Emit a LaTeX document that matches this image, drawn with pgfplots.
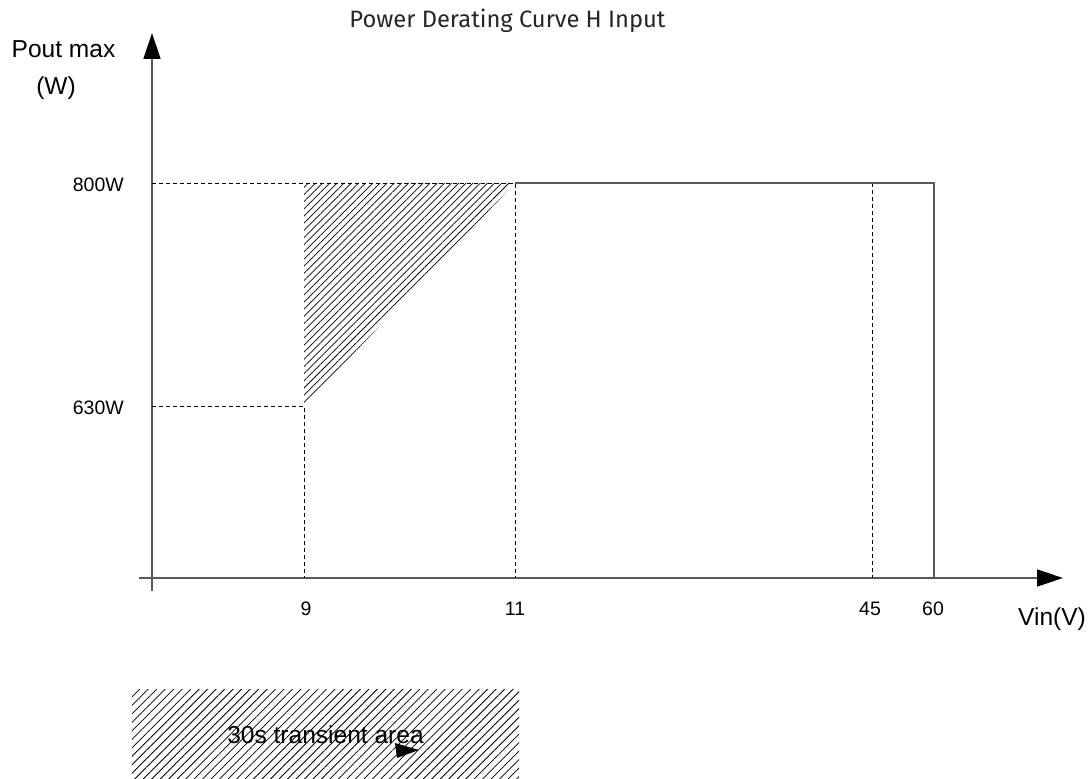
\documentclass[border=0pt]{standalone}
\usepackage{fontspec}
\setmainfont{Liberation Sans}
\newfontfamily\titlefont{Fira Sans}
\usepackage{pgfplots}
\pgfplotsset{compat=1.18}
\usetikzlibrary{arrows.meta,patterns.meta}
\begin{document}
\begin{tikzpicture}
\begin{axis}[
  x=0.75pt, y=0.75pt,
  scale only axis,
  axis lines=middle,
  enlargelimits=false,
  xmin=-13, xmax=911, ymin=-13, ymax=545,
  axis line style={draw=black!65, line width=1pt},
  x axis line style={-{Triangle[length=19.5pt,width=12.75pt,black]}},
  y axis line style={-{Triangle[length=19.5pt,width=12.75pt,black]}},
  xtick=\empty, ytick=\empty,
  clip=false,
]
% invisible frame giving the picture its size
\path (axis cs:-152,-200) rectangle (axis cs:940,578);
% hatched 30 s transient region
\addplot[draw=none, pattern={Lines[angle=45,distance=3.8pt,line width=0.55pt]}]
  coordinates {(152,172) (152,395) (363,395)} -- cycle;
% legend box
\addplot[draw=none, pattern={Lines[angle=45,distance=4.5pt,line width=0.6pt]}]
  coordinates {(-20,-111) (367,-111) (367,-200) (-20,-200)} -- cycle;
% dashed guide lines
\addplot[black, line width=0.6pt, dash pattern=on 3pt off 2.25pt] coordinates {(0,395) (363,395) (363,0)};
\addplot[black, line width=0.6pt, dash pattern=on 3pt off 2.25pt] coordinates {(0,172) (152,172) (152,0)};
\addplot[black, line width=0.6pt, dash pattern=on 3pt off 2.25pt] coordinates {(720,395) (720,0)};
% derating curve (solid)
\addplot[draw=black!65, line width=1pt] coordinates {(363,395) (782,395) (782,0)};
% small arrowhead in legend box
\fill[black] (axis cs:243,-165) -- (axis cs:245,-180) -- (axis cs:267,-172) -- cycle;
% tick labels
\node[anchor=base, font=\fontsize{14.6}{17}\selectfont] at (axis cs:154,-37) {9};
\node[anchor=base, font=\fontsize{14.6}{17}\selectfont] at (axis cs:363,-37) {11};
\node[anchor=base, font=\fontsize{14.6}{17}\selectfont] at (axis cs:718,-37) {45};
\node[anchor=base, font=\fontsize{14.6}{17}\selectfont] at (axis cs:781,-37) {60};
\node[anchor=base east, inner sep=0pt, font=\fontsize{14.6}{17}\selectfont] at (axis cs:-28,386) {800W};
\node[anchor=base east, inner sep=0pt, font=\fontsize{14.6}{17}\selectfont] at (axis cs:-28,163) {630W};
% axis labels
\node[anchor=base, inner sep=0pt, font=\fontsize{18.4}{22}\selectfont] at (axis cs:-88.5,520) {Pout max};
\node[anchor=base, inner sep=0pt, font=\fontsize{18.4}{22}\selectfont] at (axis cs:-96,483) {(W)};
\node[anchor=base, inner sep=0pt, font=\fontsize{18.4}{22}\selectfont] at (axis cs:900,-47) {Vin(V)};
\node[anchor=base, inner sep=0pt, font=\fontsize{18.4}{22}\selectfont] at (axis cs:173.5,-165) {30s transient area};
% title
\node[anchor=base, inner sep=0pt, text=black!85, font=\titlefont\fontsize{17.8}{21}\selectfont] at (axis cs:355.5,550) {Power Derating Curve H Input};
\end{axis}
\end{tikzpicture}
\end{document}
